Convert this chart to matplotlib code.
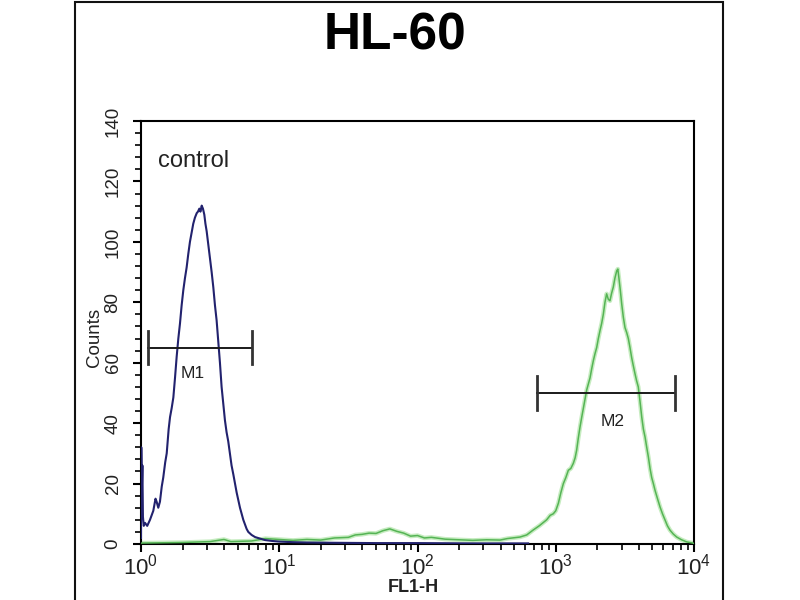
import numpy as np
import matplotlib
matplotlib.use("Agg")
import matplotlib.pyplot as plt
from matplotlib.patches import Rectangle
from matplotlib.ticker import LogLocator, MultipleLocator, LogFormatterSciNotation

plt.rcParams['font.family'] = ['Liberation Sans', 'DejaVu Sans']

# control histogram (blue): log10(FL1-H) positions and counts
blue_log = [0.000, 0.002, 0.006, 0.010, 0.014, 0.020, 0.029, 0.045, 0.065, 0.089,
            0.105, 0.113, 0.125, 0.137, 0.150, 0.161, 0.175, 0.186, 0.200, 0.210,
            0.222, 0.234, 0.246, 0.258, 0.270, 0.282, 0.294, 0.306, 0.318, 0.330,
            0.342, 0.354, 0.366, 0.378, 0.390, 0.403, 0.412, 0.422, 0.430, 0.439,
            0.448, 0.458, 0.466, 0.475, 0.487, 0.499, 0.511, 0.523, 0.535, 0.547,
            0.559, 0.571, 0.583, 0.595, 0.607, 0.619, 0.631, 0.643, 0.655, 0.668,
            0.680, 0.692, 0.704, 0.716, 0.728, 0.740, 0.752, 0.764, 0.776, 0.800,
            0.825, 0.860, 0.897, 0.950, 1.000, 1.100, 1.200, 1.400, 1.700, 2.000,
            2.400, 2.800]
blue_counts = [2, 32, 18, 26, 9, 6, 7, 6, 8, 11,
               15, 14, 12, 14, 19, 22, 27, 30, 38, 42,
               45, 48.5, 55, 62, 68, 73, 79, 84, 88, 91.5,
               96, 100, 103, 106, 108, 109.5, 110, 111, 110, 112,
               111, 109, 106, 103.5, 99, 94.5, 90, 85, 79, 74,
               67, 60, 52, 46.5, 41, 37, 34, 30, 26, 23,
               20, 17, 14.5, 12, 10, 8, 6.5, 5, 4, 3,
               2.3, 1.8, 1.3, 1.0, 0.8, 0.6, 0.5, 0.4, 0.3, 0.3,
               0.2, 0.2]

# antibody histogram (green)
green_log = [0.00, 0.30, 0.50, 0.60, 0.65, 0.80, 0.90, 1.00, 1.10, 1.20,
             1.30, 1.40, 1.50, 1.55, 1.60, 1.65, 1.70, 1.75, 1.80, 1.85,
             1.90, 1.95, 2.00, 2.05, 2.10, 2.20, 2.30, 2.40, 2.50, 2.597,
             2.650, 2.741, 2.790, 2.836, 2.880, 2.934, 2.960, 2.982, 3.000, 3.019,
             3.037, 3.055, 3.073, 3.091, 3.109, 3.127, 3.140, 3.151, 3.163, 3.175,
             3.188, 3.200, 3.212, 3.224, 3.236, 3.248, 3.260, 3.272, 3.284, 3.296,
             3.308, 3.320, 3.332, 3.344, 3.356, 3.368, 3.380, 3.392, 3.404, 3.416,
             3.428, 3.441, 3.449, 3.457, 3.467, 3.477, 3.489, 3.501, 3.513, 3.525,
             3.537, 3.549, 3.561, 3.573, 3.585, 3.597, 3.610, 3.622, 3.634, 3.646,
             3.658, 3.670, 3.682, 3.694, 3.706, 3.718, 3.736, 3.754, 3.772, 3.790,
             3.808, 3.826, 3.850, 3.875, 3.910, 3.947, 3.990, 4.000]
green_counts = [0.3, 0.5, 0.8, 1.5, 0.8, 1.0, 1.8, 1.5, 1.2, 1.5,
                1.3, 2.0, 2.2, 3.0, 3.2, 3.6, 3.5, 4.4, 5.0, 4.2,
                3.6, 2.6, 2.8, 2.0, 2.2, 1.6, 1.4, 1.2, 1.4, 1.3,
                1.8, 2.3, 3.0, 4.6, 6.0, 8.0, 9.5, 10, 11, 13.5,
                17, 20, 22, 24.4, 25, 26.7, 28.5, 31, 35, 38.6,
                42, 45, 48, 51, 53, 55, 58, 60.7, 63, 65,
                68, 70.6, 73, 76, 80, 82.8, 81, 80.5, 83, 85,
                88, 90.4, 91, 88, 84, 79.5, 75, 71.6, 70, 68,
                65, 61.7, 59, 56.4, 54, 52, 47, 42, 38, 35.4,
                32, 28.8, 25, 22, 20, 17.8, 15, 12.3, 10, 8,
                6, 4.6, 3.3, 2.3, 1.4, 0.7, 0.3, 0.2]

# marker gates: name, left, right, height, label position
gate_names = ['M1', 'M2']
gate_left = [1.13, 736]
gate_right = [6.38, 7290]
gate_level = [65, 50]
gate_label_x = [2.36, 2580]
gate_label_y = [56.4, 40.4]

fig = plt.figure(figsize=(8, 6), dpi=100)
ax = fig.add_axes([0.17625, 0.09333, 0.69125, 0.705])

bx = 10 ** np.array(blue_log)
gx = 10 ** np.array(green_log)
ax.plot(gx, green_counts, color='#c6ecc0', lw=3.2, zorder=2)
ax.plot(gx, green_counts, color='#55b455', lw=1.1, zorder=3)
ax.plot(bx, blue_counts, color='#22226e', lw=1.5, zorder=4)

for name, x1, x2, lev, lx, ly in zip(gate_names, gate_left, gate_right,
                                     gate_level, gate_label_x, gate_label_y):
    ax.plot([x1, x2], [lev, lev], color='#1a1a1a', lw=1.4, zorder=5)
    ax.plot([x1, x1], [lev - 5.5, lev + 5.5], color='#333333', lw=2, zorder=5)
    ax.plot([x2, x2], [lev - 5.5, lev + 5.5], color='#333333', lw=2, zorder=5)
    ax.text(lx, ly, name, fontsize=12.5, ha='center', va='center', color='#222222')

ax.text(0.03, 0.905, 'control', transform=ax.transAxes, fontsize=17,
        ha='left', va='center', color='#222222')

ax.set_xscale('log')
ax.set_xlim(1, 1e4)
ax.set_ylim(0, 140)
ax.xaxis.set_major_locator(LogLocator(base=10))
ax.xaxis.set_minor_locator(LogLocator(base=10, subs=np.arange(2, 10)))
ax.xaxis.set_major_formatter(LogFormatterSciNotation())
ax.yaxis.set_major_locator(MultipleLocator(20))
ax.yaxis.set_minor_locator(MultipleLocator(4))

for s in ax.spines.values():
    s.set_linewidth(1.5)
ax.tick_params(axis='x', which='major', length=6, width=1.5, labelsize=16, pad=1,
               labelcolor='#222222')
ax.tick_params(axis='x', which='minor', length=4, width=1.2)
ax.tick_params(axis='y', which='major', length=6, width=1.5, labelsize=13.5,
               pad=8, labelrotation=90, labelcolor='#222222')
ax.tick_params(axis='y', which='minor', length=4, width=1.2)
for lab in ax.get_yticklabels():
    lab.set_va('center')

fig.text(413 / 800, 1 - 588 / 600, 'FL1-H', fontsize=13, fontweight='bold',
         ha='center', va='center', color='#222222')
fig.text(94 / 800, 1 - 337 / 600, 'Counts', fontsize=13.5, rotation=90,
         ha='center', va='center', color='#222222')
fig.text(395 / 800, 1 - 36 / 600, 'HL-60', fontsize=37, fontweight='bold',
         ha='center', va='center')

frame = Rectangle((75 / 800, -0.05), (723 - 75) / 800, 1.05 - 1.7 / 600,
                  transform=fig.transFigure, fill=False, lw=1.5,
                  edgecolor='#111111', clip_on=False)
fig.add_artist(frame)

fig.savefig('out.png', dpi=100)
